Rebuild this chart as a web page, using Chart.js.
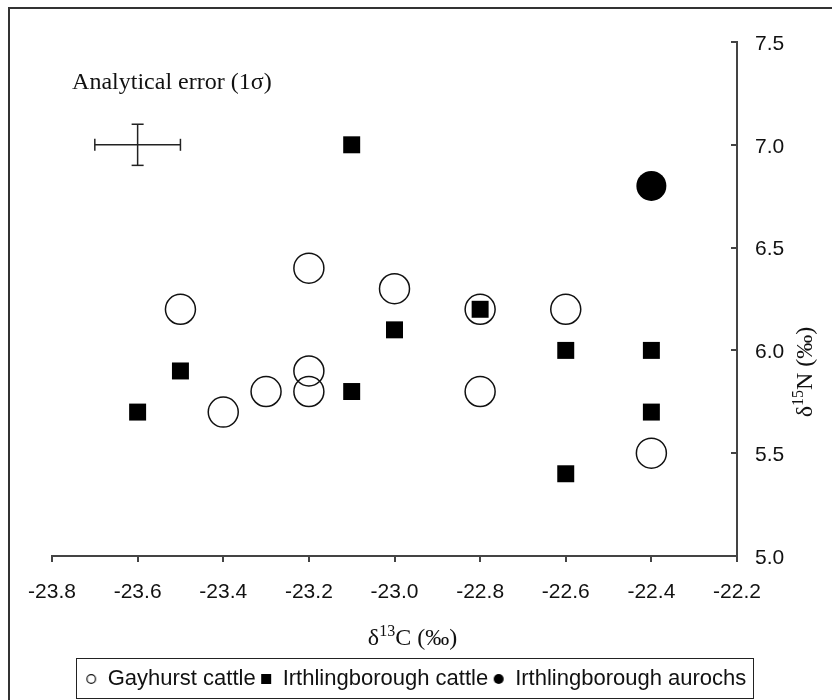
<!DOCTYPE html>
<html>
<head>
<meta charset="utf-8">
<script src="https://cdn.jsdelivr.net/npm/chart.js@4"></script>
<style>
  html, body { margin: 0; padding: 0; background: #fff; }
  #wrap { width: 832px; height: 700px; position: relative; }
</style>
</head>
<body>
<div id="wrap"><canvas id="isoChart"></canvas></div>
<script>
// d13C / d15N values
const gayhurstC = [-23.5, -23.4, -23.3, -23.2, -23.2, -23.2, -23.0, -22.8, -22.8, -22.6, -22.4];
const gayhurstN = [6.2, 5.7, 5.8, 6.4, 5.9, 5.8, 6.3, 6.2, 5.8, 6.2, 5.5];
const irthCattleC = [-23.6, -23.5, -23.1, -23.1, -23.0, -22.8, -22.6, -22.6, -22.4, -22.4];
const irthCattleN = [5.7, 5.9, 7.0, 5.8, 6.1, 6.2, 6.0, 5.4, 6.0, 5.7];
const aurochsC = [-22.4];
const aurochsN = [6.8];

// analytical error cross (1 sigma)
const errorCentre = [-23.6, 7.0];
const errorSigma = [0.1, 0.1];

const xTicks = [-23.8, -23.6, -23.4, -23.2, -23.0, -22.8, -22.6, -22.4, -22.2];
const yTicks = [5.0, 5.5, 6.0, 6.5, 7.0, 7.5];
const seriesNames = ['Gayhurst cattle', 'Irthlingborough cattle', 'Irthlingborough aurochs'];

const SANS = '"Liberation Sans", Arial, sans-serif';
const SERIF = '"Liberation Serif", "Times New Roman", serif';

const zip = (xs, ys) => xs.map((x, i) => ({ x, y: ys[i] }));

// small legend icons
function icon(kind) {
  const c = document.createElement('canvas');
  c.width = 12; c.height = 12;
  const g = c.getContext('2d');
  g.fillStyle = '#000';
  g.strokeStyle = '#111';
  g.lineWidth = 1.2;
  if (kind === 'open') {
    g.beginPath(); g.arc(6, 6, 4.3, 0, Math.PI * 2); g.stroke();
  } else if (kind === 'square') {
    g.fillRect(1, 1, 10, 10);
  } else {
    g.beginPath(); g.arc(6, 6, 5, 0, Math.PI * 2); g.fill();
  }
  return c;
}
const legendIcons = [icon('open'), icon('square'), icon('dot')];

// text with a superscript part, e.g. δ¹³C
function drawSup(ctx, parts, cx, baseY) {
  const big = '24px ' + SERIF, small = '16px ' + SERIF;
  let total = 0;
  parts.forEach(p => { ctx.font = p.sup ? small : big; total += ctx.measureText(p.t).width; });
  let x = cx - total / 2;
  ctx.textAlign = 'left';
  ctx.textBaseline = 'alphabetic';
  parts.forEach(p => {
    ctx.font = p.sup ? small : big;
    ctx.fillText(p.t, x, p.sup ? baseY - 9 : baseY);
    x += ctx.measureText(p.t).width;
  });
}

const extras = {
  id: 'extras',
  afterDraw(chart) {
    const ctx = chart.ctx;
    const xs = chart.scales.x, ys = chart.scales.y;
    const area = chart.chartArea;
    ctx.save();
    ctx.fillStyle = '#111';
    ctx.strokeStyle = '#444';

    // inward ticks on right axis
    ctx.lineWidth = 2;
    yTicks.forEach(v => {
      const py = Math.round(ys.getPixelForValue(v));
      ctx.beginPath();
      ctx.moveTo(area.right - 6, py);
      ctx.lineTo(area.right, py);
      ctx.stroke();
    });

    // annotation
    ctx.font = '24px ' + SERIF;
    ctx.textAlign = 'left';
    ctx.textBaseline = 'alphabetic';
    ctx.fillText('Analytical error (1\u03C3)', xs.getPixelForValue(-23.753), ys.getPixelForValue(7.272));

    // axis titles
    drawSup(ctx, [{ t: '\u03B4' }, { t: '13', sup: true }, { t: 'C (\u2030)' }],
      (area.left + area.right) / 2 + 18, area.bottom + 89);
    ctx.save();
    ctx.translate(area.right + 75, area.top + 330);
    ctx.rotate(-Math.PI / 2);
    drawSup(ctx, [{ t: '\u03B4' }, { t: '15', sup: true }, { t: 'N (\u2030)' }], 0, 0);
    ctx.restore();

    // legend frame
    const hb = chart.legend.legendHitBoxes;
    if (hb && hb.length) {
      const first = hb[0], last = hb[hb.length - 1];
      ctx.strokeStyle = '#222';
      ctx.lineWidth = 1;
      ctx.strokeRect(Math.round(first.left - 10) + 0.5, Math.round(first.top - 10) + 0.5,
        Math.round(last.left + last.width - first.left + 16), 40);
    }

    // outer frame
    ctx.strokeStyle = '#333';
    ctx.lineWidth = 2;
    ctx.strokeRect(9, 8, 900, 900);
    ctx.restore();
  }
};

new Chart(document.getElementById('isoChart'), {
  type: 'scatter',
  data: {
    datasets: [
      {
        label: seriesNames[0],
        data: zip(gayhurstC, gayhurstN),
        pointStyle: 'circle',
        pointRadius: 15,
        borderWidth: 1.5,
        borderColor: '#111',
        backgroundColor: 'rgba(0,0,0,0)'
      },
      {
        label: seriesNames[1],
        data: zip(irthCattleC, irthCattleN),
        pointStyle: 'rect',
        pointRadius: 12,
        borderWidth: 0,
        borderColor: '#000',
        backgroundColor: '#000'
      },
      {
        label: seriesNames[2],
        data: zip(aurochsC, aurochsN),
        pointStyle: 'circle',
        pointRadius: 15,
        borderWidth: 0,
        borderColor: '#000',
        backgroundColor: '#000'
      },
      {
        label: 'errH',
        data: [
          { x: errorCentre[0] - errorSigma[0], y: errorCentre[1] },
          { x: errorCentre[0] + errorSigma[0], y: errorCentre[1] }
        ],
        showLine: true,
        borderColor: '#222',
        borderWidth: 1.5,
        pointStyle: 'line',
        pointRotation: 90,
        pointRadius: 6,
        pointBorderWidth: 1.5
      },
      {
        label: 'errV',
        data: [
          { x: errorCentre[0], y: errorCentre[1] - errorSigma[1] },
          { x: errorCentre[0], y: errorCentre[1] + errorSigma[1] }
        ],
        showLine: true,
        borderColor: '#222',
        borderWidth: 1.5,
        pointStyle: 'line',
        pointRotation: 0,
        pointRadius: 6,
        pointBorderWidth: 1.5
      }
    ]
  },
  options: {
    responsive: true,
    maintainAspectRatio: false,
    devicePixelRatio: 1,
    animation: false,
    events: [],
    layout: { padding: { left: 26, top: 42, right: 26, bottom: 0 } },
    plugins: {
      tooltip: { enabled: false },
      legend: {
        position: 'bottom',
        labels: {
          filter: item => item.datasetIndex < 3,
          generateLabels: chart => Chart.defaults.plugins.legend.labels.generateLabels(chart)
            .map(it => (it.datasetIndex < 3 ? Object.assign(it, { pointStyle: legendIcons[it.datasetIndex] }) : it)),
          usePointStyle: true,
          boxWidth: 11,
          boxHeight: 10,
          padding: 5,
          color: '#111',
          font: { family: SANS, size: 22 }
        }
      }
    },
    scales: {
      x: {
        type: 'linear',
        position: 'bottom',
        min: xTicks[0],
        max: xTicks[xTicks.length - 1],
        afterBuildTicks: s => { s.ticks = xTicks.map(v => ({ value: v })); },
        afterFit: s => { s.height = 107; s.paddingLeft = 52; },
        ticks: {
          callback: v => v.toFixed(1),
          color: '#111',
          padding: 18,
          maxRotation: 0,
          font: { family: SANS, size: 21 }
        },
        grid: { drawOnChartArea: false, drawTicks: true, tickLength: 6, color: '#444', lineWidth: 2 },
        border: { display: true, color: '#444', width: 2 }
      },
      y: {
        type: 'linear',
        position: 'right',
        min: yTicks[0],
        max: yTicks[yTicks.length - 1],
        afterBuildTicks: s => { s.ticks = yTicks.map(v => ({ value: v })); },
        afterFit: s => { s.width = 69; },
        ticks: {
          callback: v => v.toFixed(1),
          color: '#111',
          padding: 18,
          labelOffset: 2,
          font: { family: SANS, size: 21 }
        },
        grid: { drawOnChartArea: false, drawTicks: false },
        border: { display: true, color: '#444', width: 2 }
      }
    }
  },
  plugins: [extras]
});
</script>
</body>
</html>
